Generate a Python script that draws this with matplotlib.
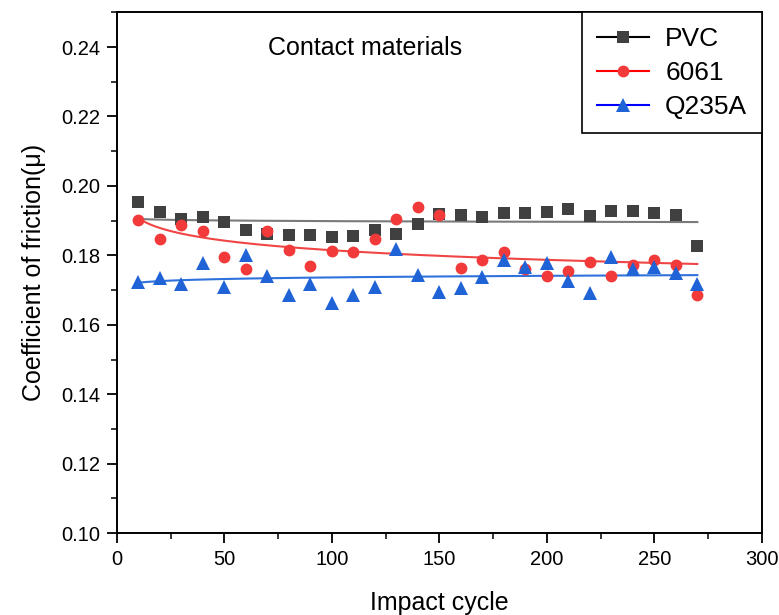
import numpy as np
import matplotlib
matplotlib.use("Agg")
import matplotlib.pyplot as plt
from matplotlib.lines import Line2D
from matplotlib.ticker import MultipleLocator, FormatStrFormatter

plt.rcParams["font.family"] = ["Liberation Sans", "DejaVu Sans"]

# impact cycles
cycles = [10, 20, 30, 40, 50, 60, 70, 80, 90, 100, 110, 120, 130, 140,
          150, 160, 170, 180, 190, 200, 210, 220, 230, 240, 250, 260, 270]

pvc = [0.1954, 0.1925, 0.1906, 0.1911, 0.1897, 0.1873, 0.1863, 0.1858, 0.1858,
       0.1853, 0.1855, 0.1873, 0.1863, 0.1890, 0.1918, 0.1916, 0.1911, 0.1921,
       0.1923, 0.1925, 0.1933, 0.1913, 0.1927, 0.1927, 0.1921, 0.1916, 0.1827]

al6061 = [0.1902, 0.1846, 0.1887, 0.1870, 0.1796, 0.1762, 0.1870, 0.1815, 0.1769,
          0.1812, 0.1810, 0.1847, 0.1904, 0.1940, 0.1916, 0.1765, 0.1786, 0.1810,
          0.1762, 0.1741, 0.1755, 0.1782, 0.1741, 0.1772, 0.1788, 0.1772, 0.1685]

q235a = [0.1724, 0.1735, 0.1719, 0.1777, 0.1709, 0.1801, 0.1741, 0.1685, 0.1719,
         0.1662, 0.1685, 0.1708, 0.1817, 0.1743, 0.1695, 0.1705, 0.1738, 0.1786,
         0.1767, 0.1777, 0.1727, 0.1692, 0.1796, 0.1762, 0.1767, 0.1748, 0.1719]

series = [
    ("PVC", pvc, "s", "#404040", "#7a7a7a", "black"),
    ("6061", al6061, "o", "#f23a3a", "#f04545", "red"),
    ("Q235A", q235a, "^", "#1f63d6", "#2f72db", "blue"),
]

fig = plt.figure(figsize=(7.79, 6.15), dpi=100)
ax = fig.add_axes([0.150, 0.133, 0.828, 0.847])

x = np.array(cycles, dtype=float)
xf = np.linspace(x.min(), x.max(), 200)
handles = []
for name, vals, mk, mcol, lcol, legcol in series:
    y = np.array(vals)
    # logarithmic fit, as in the original figure
    b, a = np.polyfit(np.log(x), y, 1)
    ax.plot(xf, a + b * np.log(xf), color=lcol, lw=1.5, zorder=2)
    ms = 9.5 if mk == "^" else 8.5
    ax.plot(x, y, linestyle="none", marker=mk, color=mcol, markersize=ms,
            markeredgewidth=0, zorder=3)
    handles.append(Line2D([], [], color=legcol, lw=1.5, marker=mk,
                          markerfacecolor=mcol, markeredgewidth=0,
                          markersize=ms, label=name))

ax.set_xlim(0, 300)
ax.set_ylim(0.10, 0.25)
ax.xaxis.set_major_locator(MultipleLocator(50))
ax.xaxis.set_minor_locator(MultipleLocator(25))
ax.set_yticks(np.arange(0.10, 0.241, 0.02))
ax.yaxis.set_minor_locator(MultipleLocator(0.01))
ax.yaxis.set_major_formatter(FormatStrFormatter("%.2f"))
ax.tick_params(which="major", direction="out", length=7, width=1.3,
               labelsize=14.5, pad=5, top=False, right=False)
ax.tick_params(which="minor", direction="out", length=4, width=1.1,
               top=False, right=False)
for sp in ax.spines.values():
    sp.set_linewidth(1.4)

ax.set_xlabel("Impact cycle", fontsize=18, labelpad=16)
ax.set_ylabel("Coefficient of friction(μ)", fontsize=18, labelpad=11)
ax.text(0.385, 0.932, "Contact materials", transform=ax.transAxes,
        fontsize=18, ha="center", va="center")

leg = ax.legend(handles=handles, loc="upper right", fontsize=19,
                frameon=True, fancybox=False, framealpha=1,
                borderaxespad=0, handlelength=2.0, handletextpad=0.6,
                labelspacing=0.38, borderpad=0.55)
leg.get_frame().set_edgecolor("black")
leg.get_frame().set_linewidth(1.2)

fig.savefig("out.png", dpi=100)
